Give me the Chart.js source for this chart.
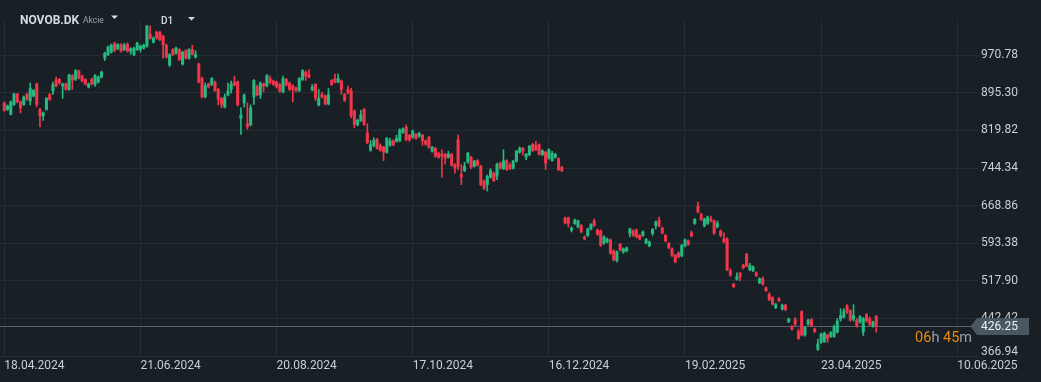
<!DOCTYPE html>
<html>
<head>
<meta charset="utf-8">
<title>NOVOB.DK D1</title>
<script src="https://cdn.jsdelivr.net/npm/chart.js@4.4.1/dist/chart.umd.min.js"></script>
<style>
    html, body { margin: 0; padding: 0; background: #182026; overflow: hidden; }
    #wrap { position: relative; width: 1041px; height: 382px; }
</style>
</head>
<body>
<div id="wrap"><canvas id="chart" width="1041" height="382"></canvas></div>
<script>
/* ── Data (daily candles) ─────────────────────────────── */
const SYMBOL     = 'NOVOB.DK';
const KIND       = 'Akcie';
const PERIOD     = 'D1';
const LAST_PRICE = 426.25;
const COUNTDOWN  = ['06', 'h ', '45', 'm'];

const DATE_LABELS = ['18.04.2024', '21.06.2024', '20.08.2024', '17.10.2024', '16.12.2024', '19.02.2025', '23.04.2025', '10.06.2025'];
const DATE_INDEX  = [0, 42, 84, 126, 168, 210, 252, 294];
const Y_TICKS     = [366.94, 442.42, 517.90, 593.38, 668.86, 744.34, 819.82, 895.30, 970.78];

const OPEN = [
    875, 862, 852, 872, 893, 877, 872, 892, 879, 889, 913, 862, 849, 862, 892, 899, 922, 922, 909, 913,
    902, 930, 922, 939, 929, 922, 907, 922, 912, 917, 927, 965, 972, 977, 994, 984, 992, 982, 992, 979,
    972, 982, 982, 985, 989, 1013, 997, 1017, 1017, 1009, 991, 951, 982, 975, 982, 953, 980, 965, 982, 967,
    953, 924, 887, 913, 912, 917, 902, 884, 867, 891, 902, 917, 917, 844, 875, 833, 831, 887, 907, 891,
    913, 909, 924, 919, 917, 912, 897, 922, 915, 909, 905, 900, 922, 937, 932, 901, 912, 871, 892, 889,
    873, 920, 924, 917, 919, 892, 902, 900, 859, 831, 840, 862, 815, 780, 789, 802, 790, 786, 776, 790,
    799, 798, 799, 816, 826, 810, 806, 812, 808, 810, 799, 806, 778, 784, 774, 772, 772, 766, 772, 751,
    801, 731, 739, 756, 766, 748, 759, 748, 718, 711, 726, 734, 728, 754, 743, 759, 750, 744, 758, 776,
    784, 766, 771, 792, 790, 791, 771, 776, 764, 759, 766, 763, 746, 644, 644, 620, 633, 626, 629, 606,
    609, 622, 638, 620, 618, 593, 596, 600, 578, 558, 591, 576, 578, 613, 618, 620, 609, 609, 594, 588,
    613, 629, 640, 624, 609, 593, 582, 569, 574, 568, 588, 598, 614, 633, 668, 651, 628, 633, 642, 638,
    626, 618, 602, 602, 538, 511, 521, 533, 549, 571, 540, 538, 534, 514, 522, 504, 491, 484, 464, 482,
    461, 469, 436, 426, 440, 416, 456, 409, 431, 440, 421, 380, 394, 396, 409, 406, 406, 415, 441, 445,
    468, 458, 441, 439, 435, 415, 450, 441, 427, 447
];
const HIGH = [
    877, 871, 879, 895, 894, 879, 889, 895, 915, 902, 915, 864, 857, 886, 894, 917, 927, 924, 915, 915,
    933, 932, 942, 941, 931, 924, 915, 925, 932, 929, 939, 977, 989, 993, 997, 994, 994, 995, 996, 986,
    987, 997, 991, 993, 1031, 1030, 1008, 1019, 1019, 1011, 993, 974, 984, 987, 984, 979, 982, 984, 991, 980,
    955, 927, 915, 915, 926, 919, 904, 886, 893, 915, 919, 929, 919, 865, 893, 875, 871, 922, 911, 917,
    915, 932, 929, 921, 919, 914, 929, 924, 917, 912, 907, 926, 942, 939, 942, 912, 914, 902, 897, 891,
    904, 922, 933, 933, 921, 894, 909, 905, 861, 842, 860, 864, 833, 800, 805, 804, 793, 788, 806, 804,
    801, 810, 823, 825, 831, 812, 821, 814, 816, 812, 801, 808, 788, 786, 776, 781, 774, 778, 774, 753,
    811, 751, 756, 776, 768, 760, 761, 750, 720, 730, 743, 736, 754, 756, 781, 761, 754, 760, 780, 787,
    786, 774, 790, 794, 798, 793, 781, 778, 783, 778, 774, 765, 748, 646, 646, 626, 642, 640, 631, 608,
    624, 633, 642, 622, 620, 608, 604, 602, 580, 578, 593, 584, 586, 624, 620, 622, 611, 618, 603, 598,
    623, 638, 646, 626, 611, 595, 584, 571, 576, 591, 602, 600, 618, 643, 676, 654, 644, 648, 648, 640,
    638, 620, 614, 604, 542, 513, 534, 535, 551, 573, 553, 548, 536, 524, 526, 506, 494, 486, 473, 484,
    471, 471, 443, 428, 444, 421, 458, 426, 441, 442, 423, 401, 413, 415, 411, 416, 429, 442, 462, 462,
    470, 460, 470, 442, 448, 444, 452, 445, 437, 448
];
const LOW = [
    858, 860, 851, 870, 875, 855, 870, 880, 871, 887, 867, 827, 840, 860, 880, 892, 907, 913, 884, 900,
    900, 902, 920, 923, 917, 911, 905, 911, 908, 915, 925, 960, 970, 975, 978, 982, 977, 980, 977, 973,
    970, 980, 977, 983, 987, 1003, 995, 1003, 1000, 965, 965, 948, 970, 973, 960, 951, 963, 963, 971, 965,
    915, 885, 885, 905, 910, 898, 871, 865, 865, 889, 895, 909, 869, 812, 867, 822, 829, 872, 889, 884,
    897, 907, 913, 910, 905, 896, 895, 909, 900, 877, 897, 898, 920, 920, 925, 899, 880, 869, 885, 871,
    871, 910, 915, 915, 892, 878, 893, 845, 825, 829, 838, 830, 793, 778, 787, 782, 778, 759, 774, 788,
    789, 796, 797, 814, 799, 798, 804, 802, 806, 790, 790, 784, 776, 766, 764, 726, 752, 764, 748, 734,
    741, 711, 737, 754, 743, 746, 748, 709, 701, 698, 724, 717, 721, 742, 741, 739, 741, 742, 756, 774,
    770, 761, 769, 777, 779, 770, 769, 741, 762, 758, 764, 739, 737, 632, 626, 616, 631, 624, 614, 600,
    607, 620, 627, 609, 587, 591, 594, 571, 558, 556, 578, 573, 576, 606, 607, 604, 600, 607, 592, 586,
    609, 622, 626, 612, 596, 582, 567, 554, 564, 566, 586, 589, 606, 631, 654, 639, 626, 631, 636, 611,
    624, 606, 594, 538, 527, 504, 519, 518, 542, 546, 538, 536, 526, 512, 509, 496, 478, 469, 462, 476,
    459, 458, 434, 419, 428, 400, 407, 407, 429, 426, 414, 378, 392, 394, 394, 404, 404, 413, 437, 443,
    452, 437, 437, 425, 433, 408, 435, 428, 425, 415
];
const CLOSE = [
    860, 869, 877, 893, 877, 865, 887, 882, 904, 900, 872, 849, 855, 884, 882, 912, 909, 915, 913, 902,
    931, 921, 940, 925, 919, 913, 913, 913, 930, 927, 937, 975, 987, 991, 980, 992, 979, 991, 979, 984,
    985, 995, 989, 991, 1029, 1005, 1005, 1005, 1002, 992, 967, 972, 972, 985, 962, 977, 965, 982, 973, 972,
    917, 887, 909, 907, 924, 900, 882, 872, 887, 899, 913, 911, 871, 851, 891, 827, 865, 920, 891, 915,
    909, 930, 917, 912, 907, 899, 924, 911, 902, 902, 900, 924, 940, 929, 927, 907, 885, 884, 887, 873,
    892, 912, 917, 924, 902, 880, 895, 849, 832, 840, 851, 832, 795, 791, 800, 784, 780, 776, 804, 799,
    791, 804, 821, 823, 801, 801, 818, 804, 814, 799, 792, 786, 786, 768, 766, 768, 764, 772, 750, 744,
    748, 726, 748, 774, 746, 758, 750, 711, 704, 728, 739, 719, 752, 744, 759, 741, 743, 758, 778, 784,
    778, 772, 788, 779, 781, 772, 779, 754, 781, 774, 772, 741, 739, 634, 633, 624, 640, 638, 616, 602,
    621, 631, 629, 611, 589, 606, 602, 573, 560, 576, 580, 582, 584, 622, 609, 606, 602, 616, 601, 596,
    621, 636, 628, 614, 598, 584, 569, 556, 566, 589, 600, 591, 608, 641, 656, 641, 642, 646, 638, 613,
    633, 609, 596, 540, 529, 506, 526, 526, 544, 548, 549, 546, 528, 522, 511, 498, 480, 471, 471, 478,
    469, 460, 441, 421, 431, 402, 409, 424, 438, 428, 416, 391, 411, 413, 402, 414, 426, 437, 448, 457,
    457, 439, 448, 427, 446, 442, 437, 430, 435, 426.25
];

/* ── Look ────────────────────────────────────────────── */
const GRID    = '#232d35';
const TEXT    = '#c9cfd5';
const MUTED   = '#98a1a9';
const GREEN   = '#26b980';
const RED     = '#f0364a';
const ORANGE  = '#e8890c';
const TAG_BG  = '#485762';
const FONT    = 'Roboto, "Open Sans", sans-serif';

// axis window (pixel fitting of the original layout)
const X_MIN = -1.327;
const X_MAX = 300.4;
const Y_MIN = 366.94;
const Y_MAX = 1041.5;

/* ── Candles as floating bars ────────────────────────── */
const bodies = CLOSE.map((c, i) => ({ x: i, y: [OPEN[i], c] }));
const wicks  = CLOSE.map((c, i) => ({ x: i, y: [LOW[i], HIGH[i]] }));
const colors = CLOSE.map((c, i) => c >= OPEN[i] ? GREEN : RED);

/* ── Overlay: header, last price line + tag, countdown ─ */
const overlay = {
    id: 'overlay',
    beforeDatasetsDraw(chart) {
        const { ctx, chartArea } = chart;
        const y = Math.round(chart.scales.y.getPixelForValue(LAST_PRICE)) + 0.5;
        ctx.save();
        ctx.strokeStyle = '#56646f';
        ctx.lineWidth = 1;
        ctx.beginPath();
        ctx.moveTo(chartArea.left, y);
        ctx.lineTo(971, y);
        ctx.stroke();
        ctx.restore();
    },
    afterDraw(chart) {
        const { ctx, chartArea } = chart;
        const y = chart.scales.y.getPixelForValue(LAST_PRICE);
        ctx.save();

        // lowest axis label sits just above the date row
        ctx.fillStyle = TEXT;
        ctx.font = '12px ' + FONT;
        ctx.textBaseline = 'middle';
        ctx.textAlign = 'left';
        ctx.fillText(Y_TICKS[0].toFixed(2), chartArea.right + 3, chartArea.bottom - 4);

        // price tag
        ctx.fillStyle = TAG_BG;
        ctx.beginPath();
        ctx.moveTo(970.5, y);
        ctx.lineTo(977, y - 8.5);
        ctx.lineTo(1029, y - 8.5);
        ctx.lineTo(1029, y + 8.5);
        ctx.lineTo(977, y + 8.5);
        ctx.closePath();
        ctx.fill();
        ctx.fillStyle = '#eef1f3';
        ctx.fillText(LAST_PRICE.toFixed(2), 981, y + 0.5);

        // countdown, right aligned
        ctx.font = '14.5px ' + FONT;
        ctx.textBaseline = 'alphabetic';
        const widths = COUNTDOWN.map(t => ctx.measureText(t).width);
        let x = 972 - widths.reduce((a, b) => a + b, 0);
        COUNTDOWN.forEach((t, i) => {
            ctx.fillStyle = i % 2 === 0 ? ORANGE : MUTED;
            ctx.fillText(t, x, 342);
            x += widths[i];
        });

        // header
        ctx.fillStyle = '#d6dbe0';
        ctx.font = 'bold 12px ' + FONT;
        ctx.fillText(SYMBOL, 20, 23.5);
        ctx.fillStyle = MUTED;
        ctx.font = '8.5px ' + FONT;
        ctx.fillText(KIND, 83, 22.5);
        ctx.fillStyle = '#d6dbe0';
        ctx.font = '500 10px ' + FONT;
        ctx.fillText(PERIOD, 161, 24);
        [[111, 15.5], [188, 17]].forEach(([tx, ty]) => {
            ctx.beginPath();
            ctx.moveTo(tx, ty);
            ctx.lineTo(tx + 7, ty);
            ctx.lineTo(tx + 3.5, ty + 3.5);
            ctx.closePath();
            ctx.fill();
        });
        ctx.restore();
    }
};

new Chart(document.getElementById('chart'), {
    type: 'bar',
    data: {
        datasets: [
            { data: wicks,  backgroundColor: colors, barThickness: 1,   grouped: false, order: 2 },
            { data: bodies, backgroundColor: colors, barThickness: 2.4, grouped: false, order: 1 }
        ]
    },
    options: {
        responsive: false,
        animation:  false,
        layout: { padding: { top: 20, left: 0, right: 0, bottom: 0 } },
        plugins: { legend: { display: false }, tooltip: { enabled: false } },
        scales: {
            x: {
                type: 'linear',
                min: X_MIN,
                max: X_MAX,
                offset: false,
                border: { display: false },
                grid: { color: GRID, offset: false, drawTicks: false },
                afterBuildTicks: s => { s.ticks = DATE_INDEX.map(v => ({ value: v })); },
                afterFit: s => { s.height = 26; },
                ticks: {
                    autoSkip: false,
                    maxRotation: 0,
                    align: 'start',
                    padding: 3,
                    color: TEXT,
                    font: { family: FONT, size: 12 },
                    callback: (v, i) => DATE_LABELS[i]
                }
            },
            y: {
                position: 'right',
                min: Y_MIN,
                max: Y_MAX,
                border: { display: false },
                grid: { color: GRID, drawTicks: false },
                afterBuildTicks: s => { s.ticks = Y_TICKS.map(v => ({ value: v })); },
                afterFit: s => { s.width = 63; },
                ticks: {
                    padding: 3,
                    color: TEXT,
                    font: { family: FONT, size: 12 },
                    callback: v => v === Y_TICKS[0] ? '' : v.toFixed(2)
                }
            }
        }
    },
    plugins: [overlay]
});
</script>
</body>
</html>
